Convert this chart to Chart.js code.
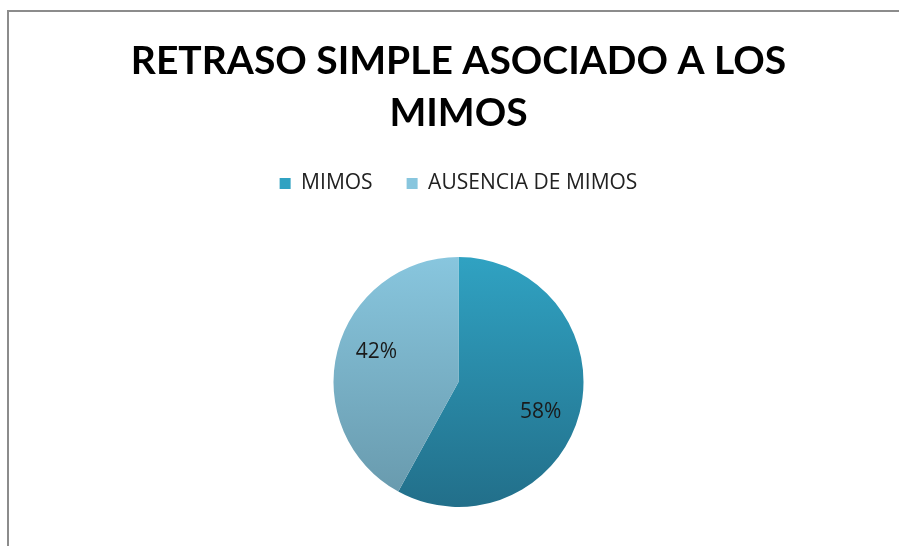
<!DOCTYPE html>
<html>
<head>
<meta charset="utf-8">
<script src="https://cdn.jsdelivr.net/npm/chart.js@4.4.1/dist/chart.umd.min.js"></script>
<style>
  html, body { margin: 0; padding: 0; background: #fff; }
  #wrap { position: relative; width: 899px; height: 546px; overflow: hidden; }
  #frame { position: absolute; left: 7px; top: 10px; width: 900px; height: 540px;
           border-top: 2px solid #8c8c8c; border-left: 2px solid #8c8c8c; }
  canvas { position: absolute; left: 0; top: 0; }
</style>
</head>
<body>
<div id="wrap">
  <div id="frame"></div>
  <canvas id="pie" width="899" height="600"></canvas>
</div>
<script>
const labels = ["MIMOS", "AUSENCIA DE MIMOS"];
const values = [58, 42];
const titleLines = ["RETRASO SIMPLE ASOCIADO A LOS", "MIMOS"];

drawPie();
function drawPie() {
  // dégradés verticaux comme dans Excel
  const shades = [["#30a2c2", "#226f8a"], ["#88c6de", "#6798ab"]];
  function fill(ctx) {
    const area = ctx.chart.chartArea;
    if (!area) return shades[ctx.dataIndex][0];
    // le disque fait 250 px de haut, centré dans la zone du graphique
    const cy = (area.top + area.bottom) / 2;
    if (!Number.isFinite(cy)) return shades[ctx.dataIndex][0];
    const g = ctx.chart.ctx.createLinearGradient(0, cy - 125, 0, cy + 125);
    g.addColorStop(0, shades[ctx.dataIndex][0]);
    g.addColorStop(1, shades[ctx.dataIndex][1]);
    return g;
  }

  // étiquettes de pourcentage dans les secteurs
  const pctLabels = {
    id: "pctLabels",
    afterDatasetsDraw(chart) {
      const c = chart.ctx;
      const total = values.reduce((a, b) => a + b, 0);
      chart.getDatasetMeta(0).data.forEach((arc, i) => {
        const p = arc.getProps(["x", "y", "startAngle", "endAngle", "outerRadius"], true);
        const mid = (p.startAngle + p.endAngle) / 2 + 0.1; // léger décalage comme Excel
        const r = p.outerRadius * 0.7;
        c.save();
        c.font = "21px 'Open Sans'";
        c.fillStyle = "#1a1a1a";
        c.textAlign = "center";
        c.textBaseline = "middle";
        c.fillText(Math.round(values[i] / total * 100) + "%", p.x + r * Math.cos(mid), p.y + r * Math.sin(mid));
        c.restore();
      });
    }
  };

  const config = {
    type: "pie",
    data: {
      labels: labels,
      datasets: [{
        data: values,
        backgroundColor: fill,
        borderWidth: 0
      }]
    },
    options: {
      responsive: false,
      animation: false,
      radius: 125,
      layout: { padding: { left: 18, right: 0, top: 0, bottom: 40 } },
      plugins: {
        title: {
          display: true,
          text: titleLines,
          color: "#000",
          font: { family: "Lato", size: 39, weight: "bold", lineHeight: 52 / 39 },
          padding: { top: 35, bottom: 0 }
        },
        legend: {
          position: "top",
          labels: {
            color: "#222",
            font: { family: "Open Sans", size: 21 },
            boxWidth: 11,
            boxHeight: 11,
            padding: 34
          }
        },
        tooltip: { enabled: false }
      }
    },
    plugins: [pctLabels]
  };

  new Chart(document.getElementById("pie"), config);
}
</script>
</body>
</html>
